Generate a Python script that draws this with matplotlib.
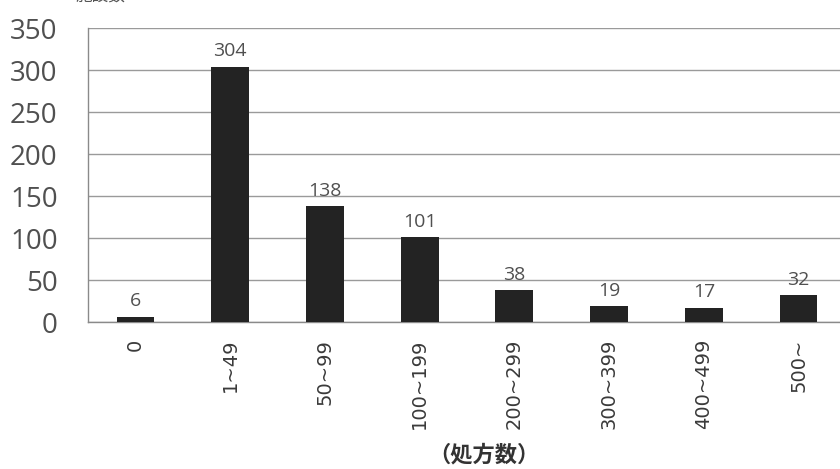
import numpy as np
import matplotlib
matplotlib.use("Agg")
from matplotlib import pyplot as plt

plt.rcParams['font.family'] = ['Open Sans', 'Noto Sans CJK JP', 'DejaVu Sans']

# Data
categories = ['0', '1~49', '50~99', '100~199', '200~299', '300~399', '400~499', '500~']
counts = [6, 304, 138, 101, 38, 19, 17, 32]
y_ticks = [0, 50, 100, 150, 200, 250, 300, 350]

fig = plt.figure(figsize=(8.4, 4.69), dpi=100)
ax = fig.add_axes([0.105, 0.313, 0.902, 0.627])

x = np.arange(len(categories))
ax.bar(x, counts, width=0.4, color='#232323', zorder=3)

# value labels above bars
for xi, v in zip(x, counts):
    ax.text(xi, v + 8, str(v), ha='center', va='bottom', fontsize=14, color='#505050')

ax.set_ylim(0, 350)
ax.set_xlim(-0.5, 7.5)
ax.set_yticks(y_ticks)
ax.set_xticks(x)
ax.set_xticklabels(categories, rotation=90, fontsize=14, color='#3a3a3a',
                   family=['DejaVu Sans'])
ax.tick_params(axis='y', labelsize=20, colors='#505050', length=0, pad=22)
ax.tick_params(axis='x', length=0, pad=12)
ax.yaxis.grid(True, color='#9a9a9a', linewidth=1.0, zorder=0)

for side in ['top', 'right']:
    ax.spines[side].set_visible(False)
for side in ['left', 'bottom']:
    ax.spines[side].set_color('#8a8a8a')
    ax.spines[side].set_linewidth(1.0)

# axis caption and the clipped unit label at the top
fig.text(484 / 840, 1 - 455 / 469, '（処方数）', ha='center', va='center',
         fontsize=16, fontweight='bold', color='#333333',
         family=['Noto Sans CJK JP', 'DejaVu Sans'])
fig.text(75 / 840, 1.0 + 4 / 469, '施設数', ha='left', va='center',
         fontsize=12, color='#555555', family=['Noto Sans CJK JP', 'DejaVu Sans'])

fig.savefig('out.png', dpi=100)
